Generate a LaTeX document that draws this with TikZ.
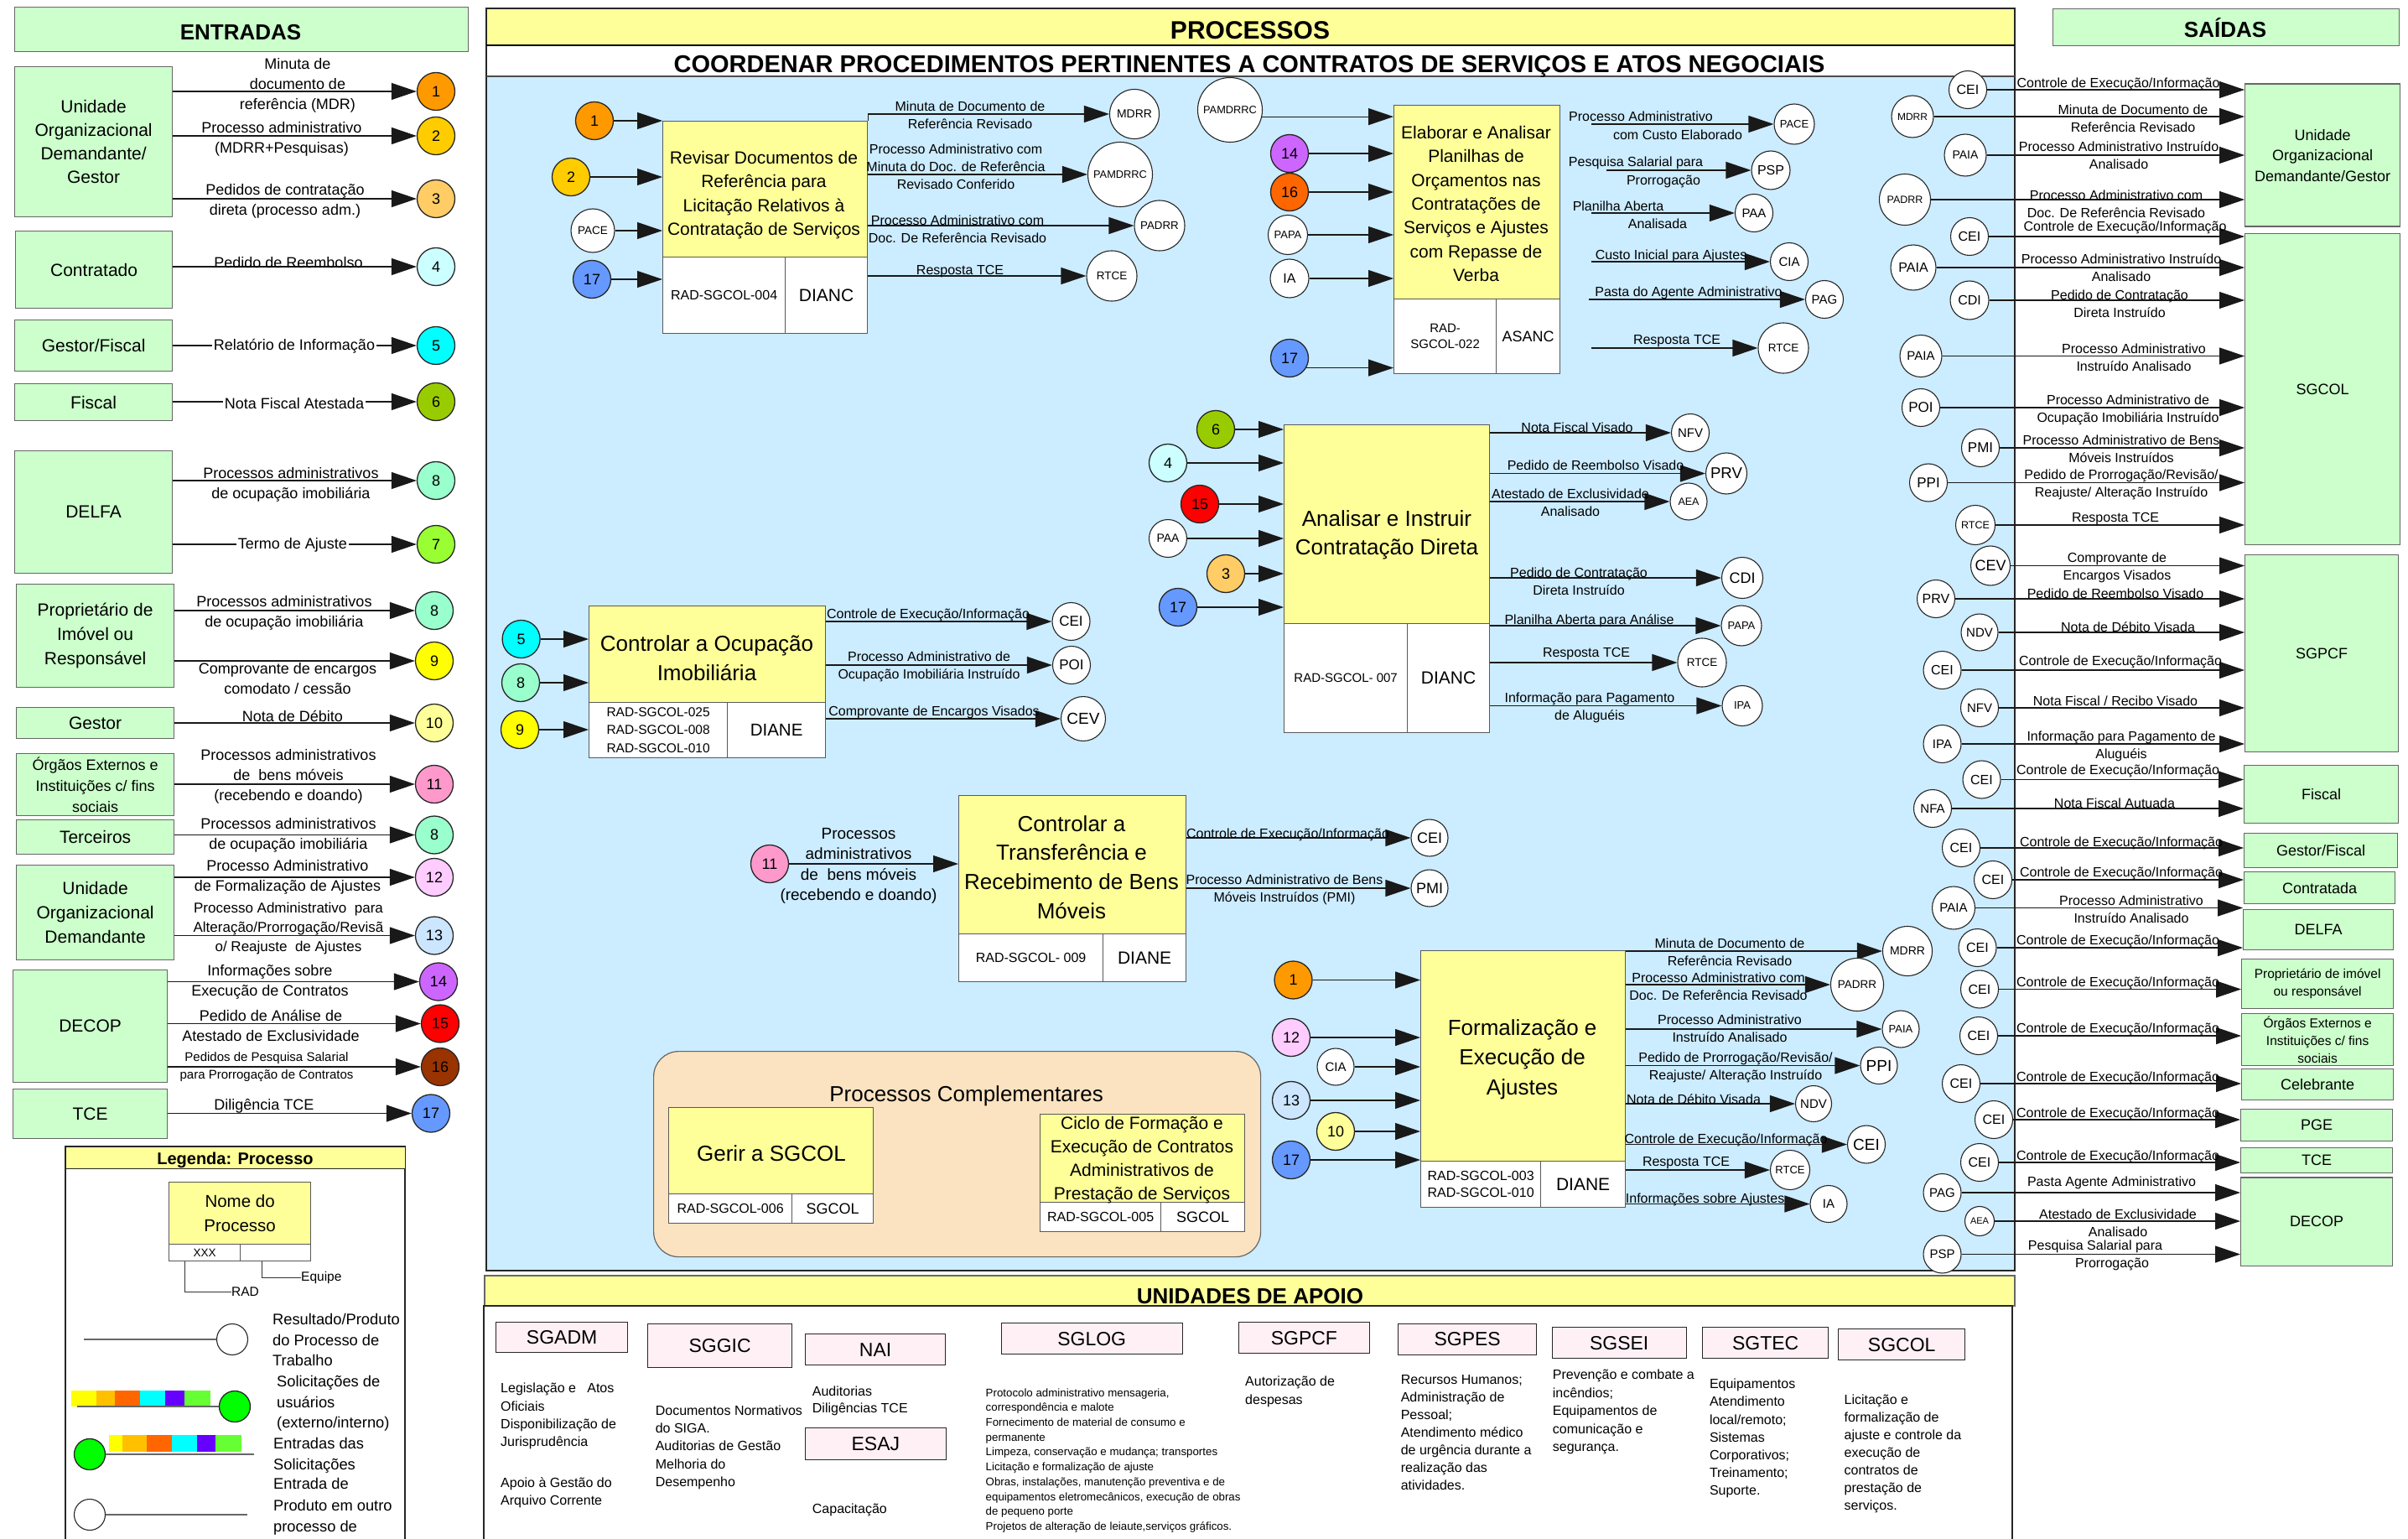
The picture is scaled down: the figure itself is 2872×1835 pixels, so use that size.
\documentclass[tikz,border=0pt]{standalone}
\usepackage{fontspec}
\setmainfont{Liberation Sans}
\usetikzlibrary{arrows.meta}
\newcommand\myfs[2]{\fontsize{#1}{#2}\selectfont}
\definecolor{entgreen}{HTML}{CCFFCC}
\definecolor{procyel}{HTML}{FFFF99}
\definecolor{procblue}{HTML}{CCECFF}
\definecolor{peach}{HTML}{FBE3C1}
\definecolor{apink}{HTML}{FFF0F5}
\definecolor{cA}{HTML}{FF9900}
\definecolor{cB}{HTML}{FFCC00}
\definecolor{cC}{HTML}{FFCC66}
\definecolor{cD}{HTML}{CCFFFF}
\definecolor{cE}{HTML}{00FFFF}
\definecolor{cF}{HTML}{99CC00}
\definecolor{cG}{HTML}{99FF33}
\definecolor{cH}{HTML}{99FFCC}
\definecolor{cI}{HTML}{FFFF00}
\definecolor{cJ}{HTML}{FFFF99}
\definecolor{cK}{HTML}{FF99CC}
\definecolor{cL}{HTML}{FFCCFF}
\definecolor{cM}{HTML}{CCE6FF}
\definecolor{cN}{HTML}{CC66FF}
\definecolor{cO}{HTML}{FF0000}
\definecolor{cP}{HTML}{993300}
\definecolor{cPb}{HTML}{FF6600}
\definecolor{cQ}{HTML}{6699FF}
\definecolor{barB}{HTML}{FFC000}
\definecolor{barC}{HTML}{FF6600}
\definecolor{barE}{HTML}{6600FF}
\definecolor{barF}{HTML}{66FF33}
\definecolor{lgreen}{HTML}{00FF00}
\tikzset{
 gbox/.style={draw=black!60, line width=1.2pt, fill=entgreen, inner sep=0pt, align=center, font=\myfs{18}{24}},
 ybox/.style={draw=black!65, line width=1.2pt, fill=procyel, inner sep=0pt},
 wbox/.style={draw=black!65, line width=1.2pt, fill=white, inner sep=0pt, align=center},
 pkbox/.style={draw=black!85, line width=1.3pt, fill=apink, inner sep=0pt, font=\myfs{23}{23}},
 numc/.style={circle, draw=black!85, line width=1.3pt, minimum size=45pt, inner sep=0pt, font=\myfs{18}{18}},
 wc/.style={circle, draw=black!85, line width=1.1pt, fill=white, inner sep=0pt},
 lab/.style={font=\myfs{16}{21}, align=center, inner sep=0pt},
 elab/.style={font=\myfs{18}{24}, align=center, inner sep=0pt},
 ptit/.style={font=\myfs{21}{28.3}, align=center, inner sep=0pt},
 dtxt/.style={font=\myfs{16}{21.1}, align=left, inner sep=0pt, anchor=west},
 arr/.style={draw=black!90, line width=1.2pt, -{Triangle[length=30pt,width=20pt]}},
 ln/.style={draw=black!80, line width=1.2pt}
}
\newcommand\mybx[7]{\node[#1, anchor=north west, minimum width=#5pt, minimum height=#6pt] (#2) at (#3,#4) {#7};}
\newcommand\mywc[5]{\node[wc, minimum size=#4pt, font=\myfs{#5}{#5}] (#1) at (#2) {#3};}
\newcommand\mync[4]{\node[numc, fill=#4] (#1) at (#2) {#3};}
\newcommand\myin[2]{\draw[arr] (#1) -- (#1 -| #2.west);}
\newcommand\myout[2]{\draw[arr] (#1.east |- #2) -- (#2);}
\newcommand\mylab[3]{\node[lab] (#1) at (#2) {#3};}
\newcommand\myelab[3]{\node[elab] (#1) at (#2) {#3};}
\begin{document}
\begin{tikzpicture}[x=1pt,y=-1pt]
\useasboundingbox (0,0) rectangle (2872,1835);
\fill[white] (0,0) rectangle (2872,1835);

% ===== PROCESSOS frame =====
\fill[procyel] (580,10) rectangle (2403,54);
\fill[white] (580,54) rectangle (2403,91);
\fill[procblue] (580,91) rectangle (2403,1515);
\draw[black!85, line width=1.5pt] (580,10) rectangle (2403,1515);
\draw[black, line width=2.5pt] (580,54) -- (2403,54);
\draw[black!70, line width=1.2pt] (580,91) -- (2403,91);
\node[font=\bfseries\myfs{30}{30}, anchor=base, inner sep=0pt] (ptitle) at (1491,46.5) {PROCESSOS};
\node[font=\bfseries\myfs{29}{29}, anchor=base, inner sep=0pt] (psub) at (1490,87) {COORDENAR PROCEDIMENTOS PERTINENTES A CONTRATOS DE SERVIÇOS E ATOS NEGOCIAIS};

% ===== UNIDADES DE APOIO frame =====
\fill[procyel] (578,1521) rectangle (2403,1557);
\draw[black!60, line width=1.2pt] (578,1521) rectangle (2403,1557);
\draw[black!85, line width=1.5pt] (577,1845) -- (577,1557) -- (2400,1557) -- (2400,1845);
\node[font=\bfseries\myfs{26}{26}, anchor=base, inner sep=0pt] (utitle) at (1491,1554) {UNIDADES DE APOIO};

% ===== ENTRADAS =====
\mybx{gbox}{enth}{17}{8}{541}{53}{}
\node[font=\bfseries\myfs{26}{26}, anchor=base, inner sep=0pt] (entt) at (287,47.3) {ENTRADAS};
\mybx{gbox,font=\myfs{21}{28}}{e1}{17}{79}{188}{179}{Unidade\\Organizacional\\Demandante/\\Gestor}
\mybx{gbox,font=\myfs{21}{28}}{e2}{18}{275}{187}{92}{Contratado}
\mybx{gbox,font=\myfs{21}{28}}{e3}{17}{381}{188}{61}{Gestor/Fiscal}
\mybx{gbox,font=\myfs{21}{28}}{e4}{17}{457}{188}{44}{Fiscal}
\mybx{gbox,font=\myfs{21}{28}}{e5}{17}{537}{188}{146}{DELFA}
\mybx{gbox,font=\myfs{21}{28.7}}{e6}{19}{696}{188}{123}{Proprietário de\\Imóvel ou\\Responsável}
\mybx{gbox,font=\myfs{21}{28}}{e7}{19}{843}{188}{37}{Gestor}
\mybx{gbox,font=\myfs{18}{25}}{e8}{19}{898}{188}{74}{Órgãos Externos e\\Instituições c/ fins\\sociais}
\mybx{gbox,font=\myfs{21}{28}}{e9}{19}{977}{188}{41}{Terceiros}
\mybx{gbox,font=\myfs{21}{28.7}}{e10}{19}{1031}{188}{113}{Unidade\\Organizacional\\Demandante}
\mybx{gbox,font=\myfs{21}{28}}{e11}{15}{1156}{184}{134}{DECOP}
\mybx{gbox,font=\myfs{21}{28}}{e12}{15}{1298}{184}{59}{TCE}

\mync{i1}{520,109}{1}{cA}   \myout{e1}{i1}
\myelab{li1}{355,102}{Minuta de\\documento de\\referência (MDR)}
\mync{i2}{520,162}{2}{cB}   \myout{e1}{i2}
\myelab{li2}{336,166}{Processo administrativo\\(MDRR+Pesquisas)}
\mync{i3}{520,237}{3}{cC}   \myout{e1}{i3}
\myelab{li3}{340,239.5}{Pedidos de contratação\\direta (processo adm.)}
\mync{i4}{520,318}{4}{cD}   \myout{e2}{i4}
\myelab{li4}{344,313}{Pedido de Reembolso}
\mync{i5}{520,412}{5}{cE}   \myout{e3}{i5}
\node[elab, fill=white, inner sep=2pt] (li5) at (351,413) {Relatório de Informação};
\mync{i6}{520,479}{6}{cF}   \myout{e4}{i6}
\node[elab, fill=white, inner sep=2pt] (li6) at (351,481) {Nota Fiscal Atestada};
\mync{i8a}{520,573}{8}{cH}  \myout{e5}{i8a}
\myelab{li8a}{347,577.5}{Processos administrativos\\de ocupação imobiliária}
\mync{i7}{520,649}{7}{cG}   \myout{e5}{i7}
\node[elab, fill=white, inner sep=2pt] (li7) at (349,650) {Termo de Ajuste};
\mync{i8b}{518,728}{8}{cH}  \myout{e6}{i8b}
\myelab{li8b}{339,730.5}{Processos administrativos\\de ocupação imobiliária}
\mync{i9}{518,788}{9}{cI}   \myout{e6}{i9}
\myelab{li9}{343,809.5}{Comprovante de encargos\\comodato / cessão}
\mync{i10}{518,862}{10}{cJ} \myout{e7}{i10}
\myelab{li10}{349,854}{Nota de Débito}
\mync{i11}{518,935}{11}{cK} \myout{e8}{i11}
\myelab{li11}{344,926}{Processos administrativos\\de\ \ bens móveis\\(recebendo e doando)}
\mync{i8c}{518,995.5}{8}{cH} \myout{e9}{i8c}
\myelab{li8c}{344,995.5}{Processos administrativos\\de ocupação imobiliária}
\mync{i12}{518,1046}{12}{cL} \myout{e10}{i12}
\myelab{li12}{343,1046}{Processo Administrativo\\de Formalização de Ajustes}
\mync{i13}{518,1115.5}{13}{cM} \myout{e10}{i13}
\node[elab, font=\myfs{17}{23}] (li13) at (344,1107) {Processo Administrativo\ \ para\\Alteração/Prorrogação/Revisã\\o/ Reajuste\ \ de Ajustes};
\mync{i14}{523,1170.5}{14}{cN} \myout{e11}{i14}
\myelab{li14}{322,1171}{Informações sobre\\Execução de Contratos}
\mync{i15}{525,1220.5}{15}{cO} \myout{e11}{i15}
\myelab{li15}{323,1222.5}{Pedido de Análise de\\Atestado de Exclusividade}
\mync{i16}{525,1272}{16}{cP} \myout{e11}{i16}
\node[elab, font=\myfs{15}{21}] (li16) at (318,1272.5) {Pedidos de Pesquisa Salarial\\para Prorrogação de Contratos};
\mync{i17}{514,1327.5}{17}{cQ} \myout{e12}{i17}
\myelab{li17}{315,1319}{Diligência TCE}

% ===== LEGENDA =====
\draw[black!85, line width=1.2pt, fill=white] (78,1845) -- (78,1367) -- (483,1367) -- (483,1845);
\mybx{draw=black!85, line width=1.2pt, fill=procyel, inner sep=0pt}{legh}{78}{1367}{405}{26}{}
\node[font=\bfseries\myfs{20}{20}, anchor=base, inner sep=0pt] (legt) at (280.5,1388) {Legenda: Processo};
\mybx{ybox, align=center, font=\myfs{20.5}{29}}{lgp}{201}{1409}{169}{74}{Nome do\\Processo}
\mybx{wbox, font=\myfs{13.5}{14}}{lgr}{201}{1483}{85}{20}{XXX}
\mybx{wbox}{lge}{286}{1483}{84}{20}{}
\node[anchor=west, font=\myfs{15.5}{16}, inner sep=0pt] (lgradt) at (276,1540) {RAD};
\draw[ln, line width=1pt] ([xshift=19pt]lgr.south west) |- (lgradt.west);
\node[anchor=west, font=\myfs{15.5}{16}, inner sep=0pt] (lgeqt) at (359,1523) {Equipe};
\draw[ln, line width=1pt] ([xshift=26pt]lge.south west) |- (lgeqt.west);
\node[wc, minimum size=37pt] (lgc1) at (277,1597) {};
\coordinate (lg1s) at (100,1597);
\draw[ln, black!60] (lg1s) -- (lgc1);
\fill[cI] (85,1658) rectangle (115,1677);
\fill[barB] (115,1658) rectangle (137,1677);
\fill[barC] (137,1658) rectangle (167,1677);
\fill[cE] (167,1658) rectangle (197,1677);
\fill[barE] (197,1658) rectangle (220,1677);
\fill[barF] (220,1658) rectangle (251,1677);
\node[numc, minimum size=37pt, fill=lgreen] (lgc2) at (280,1677) {};
\coordinate (lg2s) at (92,1677);
\draw[ln, black!60] (lg2s) -- (lgc2);
\fill[cI] (130,1711) rectangle (146,1731);
\fill[barB] (146,1711) rectangle (175,1731);
\fill[barC] (175,1711) rectangle (205,1731);
\fill[cE] (205,1711) rectangle (235,1731);
\fill[barE] (235,1711) rectangle (257,1731);
\fill[barF] (257,1711) rectangle (288,1731);
\node[numc, minimum size=37pt, fill=lgreen] (lgc3) at (107,1734) {};
\coordinate (lg3e) at (303,1734);
\draw[ln, black!60] (lgc3) -- (lg3e);
\node[wc, minimum size=37pt] (lgc4) at (107,1806) {};
\coordinate (lg4e) at (295,1806);
\draw[ln, black!60] (lgc4) -- (lg4e);
\node[dtxt, font=\myfs{18.3}{24.5}] (lgt1) at (325,1597.5) {Resultado/Produto\\do Processo de\\Trabalho};
\node[dtxt, font=\myfs{18.3}{24.5}] (lgt2) at (330,1673.5) {Solicitações de\\usuários\\(externo/interno)};
\node[dtxt, font=\myfs{18.3}{24.5}] (lgt3) at (326,1735.5) {Entradas das\\Solicitações};
\node[dtxt, font=\myfs{18.3}{25.5}] (lgt4) at (326,1796.5) {Entrada de\\Produto em outro\\processo de};

% ===== B1 Revisar =====
\mybx{ybox}{b1}{790}{144}{244}{162}{}
\mybx{wbox,font=\myfs{16}{20}}{b1l}{790}{306}{146}{91}{RAD-SGCOL-004}
\mybx{wbox,font=\myfs{21}{24}}{b1r}{936}{306}{98}{91}{DIANC}
\node[ptit] (t1) at (911,232.5) {Revisar Documentos de\\Referência para\\Licitação Relativos à\\Contratação de Serviços};
\mync{b1i1}{709,144}{1}{cA}    \myin{b1i1}{b1}
\mync{b1i2}{681,211}{2}{cB}    \myin{b1i2}{b1}
\mywc{b1i3}{707,275}{PACE}{52}{13.5} \myin{b1i3}{b1}
\mync{b1i4}{706,333}{17}{cQ}   \myin{b1i4}{b1}
\mywc{b1o1}{1353,136}{MDRR}{59}{14}
\draw[arr] (b1.north east) |- (b1o1);
\mylab{b1t1}{1157,137.5}{Minuta de Documento de\\Referência Revisado}
\mywc{b1o2}{1336,208}{PAMDRRC}{77}{12.8} \myout{b1}{b1o2}
\mylab{b1t2}{1140,199}{Processo Administrativo com\\Minuta do Doc. de Referência\\Revisado Conferido}
\mywc{b1o3}{1383,269}{PADRR}{60}{13.3} \myout{b1}{b1o3}
\mylab{b1t3}{1142,273}{Processo Administrativo com\\Doc. De Referência Revisado}
\mywc{b1o4}{1326,329}{RTCE}{60}{13.5} \myout{b1}{b1o4}
\mylab{b1t4}{1145,324}{Resposta TCE}

% ===== B2 Elaborar =====
\mybx{ybox}{b2}{1662}{125}{198}{231}{}
\mybx{wbox,font=\myfs{15}{19}}{b2l}{1662}{356}{122}{89}{RAD-\\SGCOL-022}
\mybx{wbox,font=\myfs{18}{20}}{b2r}{1784}{356}{76}{89}{ASANC}
\node[ptit] (t2) at (1760.5,243) {Elaborar e Analisar\\Planilhas de\\Orçamentos nas\\Contratações de\\Serviços e Ajustes\\com Repasse de\\Verba};
\mywc{b2i1}{1467,131}{PAMDRRC}{77}{12.8}
\draw[arr] (b2i1.-12) -- (b2i1.-12 -| b2.west);
\mync{b2i2}{1538,183}{14}{cN}   \myin{b2i2}{b2}
\mync{b2i3}{1538,229}{16}{cPb}  \myin{b2i3}{b2}
\mywc{b2i4}{1536,280}{PAPA}{47}{13} \myin{b2i4}{b2}
\mywc{b2i5}{1538,332}{IA}{46}{16}   \myin{b2i5}{b2}
\mync{b2i6}{1538,427}{17}{cQ}
\draw[arr] (b2i6.-30) -- (b2i6.-30 -| b2.west);
\mywc{b2o1}{2140,148}{PACE}{48}{13}
\coordinate (b2s1) at (1898,148); \draw[arr] (b2s1) -- (b2o1);
\mylab{b2t1a}{1957,139}{Processo Administrativo}
\mylab{b2t1b}{2001,161}{com Custo Elaborado}
\mywc{b2o2}{2112,203}{PSP}{46}{16}
\coordinate (b2s2) at (1916,203); \draw[arr] (b2s2) -- (b2o2);
\mylab{b2t2a}{1951,194}{Pesquisa Salarial para}
\mylab{b2t2b}{1984,216}{Prorrogação}
\mywc{b2o3}{2092,254}{PAA}{45}{15}
\coordinate (b2s3) at (1898,254); \draw[arr] (b2s3) -- (b2o3);
\mylab{b2t3a}{1930,246}{Planilha Aberta}
\mylab{b2t3b}{1977,267}{Analisada}
\mywc{b2o4}{2134,312}{CIA}{45}{15}
\coordinate (b2s4) at (1898,312); \draw[arr] (b2s4) -- (b2o4);
\mylab{b2t4}{1993,305}{Custo Inicial para Ajustes}
\mywc{b2o5}{2176,357}{PAG}{45}{15}
\coordinate (b2s5) at (1895,357); \draw[arr] (b2s5) -- (b2o5);
\mylab{b2t5}{2014,349}{Pasta do Agente Administrativo}
\mywc{b2o6}{2127,415}{RTCE}{60}{13.5}
\coordinate (b2s6) at (1898,415); \draw[arr] (b2s6) -- (b2o6);
\mylab{b2t6}{2000,407}{Resposta TCE}

% ===== B3 Analisar =====
\mybx{ybox}{b3}{1531}{506}{245}{237}{}
\mybx{wbox,font=\myfs{15}{18}}{b3l}{1531}{743}{147}{130}{RAD-SGCOL- 007}
\mybx{wbox,font=\myfs{21}{24}}{b3r}{1678}{743}{98}{130}{DIANC}
\node[ptit, font=\myfs{26}{34}] (t3) at (1654,638) {Analisar e Instruir\\Contratação Direta};
\mync{b3i1}{1450,512}{6}{cF}   \myin{b3i1}{b3}
\mync{b3i2}{1393,552}{4}{cD}   \myin{b3i2}{b3}
\mync{b3i3}{1431,601}{15}{cO}  \myin{b3i3}{b3}
\mywc{b3i4}{1393,642}{PAA}{45}{14} \myin{b3i4}{b3}
\mync{b3i5}{1462,684}{3}{cC}   \myin{b3i5}{b3}
\mync{b3i6}{1405,724}{17}{cQ}  \myin{b3i6}{b3}
\mywc{b3o1}{2016,516}{NFV}{45}{15} \myout{b3}{b3o1}
\mylab{b3t1}{1881,510}{Nota Fiscal Visado}
\mywc{b3o2}{2059,564.5}{PRV}{49}{18.6} \myout{b3}{b3o2}
\mylab{b3t2}{1903,555}{Pedido de Reembolso Visado}
\mywc{b3o3}{2014,598}{AEA}{44}{12.5} \myout{b3}{b3o3}
\mylab{b3t3}{1873,599.5}{Atestado de Exclusividade\\Analisado}
\mywc{b3o4}{2078,689}{CDI}{49}{18} \myout{b3}{b3o4}
\mylab{b3t4}{1883,693}{Pedido de Contratação\\Direta Instruído}
\mywc{b3o5}{2077,746}{PAPA}{48}{13} \myout{b3}{b3o5}
\mylab{b3t5}{1895.5,740}{Planilha Aberta para Análise}
\mywc{b3o6}{2030,790}{RTCE}{58}{13.5} \myout{b3}{b3o6}
\mylab{b3t6}{1892,779.6}{Resposta TCE}
\mywc{b3o7}{2078,841.5}{IPA}{48}{13} \myout{b3}{b3o7}
\mylab{b3t7}{1896,843.5}{Informação para Pagamento\\de Aluguéis}

% ===== B4 Controlar Ocupacao =====
\mybx{ybox}{b4}{702}{722}{282}{115}{}
\mybx{wbox,font=\myfs{15.5}{21.5}}{b4l}{702}{837}{165}{66}{RAD-SGCOL-025\\RAD-SGCOL-008\\RAD-SGCOL-010}
\mybx{wbox,font=\myfs{20.5}{22}}{b4r}{867}{837}{117}{66}{DIANE}
\node[ptit, font=\myfs{26}{35}] (t4) at (843,785) {Controlar a Ocupação\\Imobiliária};
\mync{b4i1}{621.6,762}{5}{cE}  \myin{b4i1}{b4}
\mync{b4i2}{621,814}{8}{cH}    \myin{b4i2}{b4}
\mync{b4i3}{620,870}{9}{cI}    \myin{b4i3}{b4}
\mywc{b4o1}{1277.5,741}{CEI}{45}{17} \myout{b4}{b4o1}
\mylab{b4t1}{1107,733}{Controle de Execução/Informação}
\mywc{b4o2}{1278,793}{POI}{45}{17} \myout{b4}{b4o2}
\mylab{b4t2}{1108,794.5}{Processo Administrativo de\\Ocupação Imobiliária Instruído}
\mywc{b4o3}{1292,857}{CEV}{53}{19} \myout{b4}{b4o3}
\mylab{b4t3}{1114,849}{Comprovante de Encargos Visados}

% ===== B5 Transferencia =====
\mybx{ybox}{b5}{1143}{948}{271}{165}{}
\mybx{wbox,font=\myfs{16}{18}}{b5l}{1143}{1113}{172}{57}{RAD-SGCOL- 009}
\mybx{wbox,font=\myfs{21}{24}}{b5r}{1315}{1113}{99}{57}{DIANE}
\node[ptit, font=\myfs{26}{34.8}] (t5) at (1278,1034) {Controlar a\\Transferência e\\Recebimento de Bens\\Móveis};
\mync{b5i1}{918,1030}{11}{cK}  \myin{b5i1}{b5}
\node[elab, font=\myfs{19}{24.5}] (b5it) at (1024,1032.5) {Processos\\administrativos\\de\ \ bens móveis\\(recebendo e doando)};
\mywc{b5o1}{1705,999}{CEI}{44}{18} \myout{b5}{b5o1}
\mylab{b5t1}{1536,995.7}{Controle de Execução/Informação}
\mywc{b5o2}{1705,1059}{PMI}{44}{18} \myout{b5}{b5o2}
\mylab{b5t2}{1532,1061}{Processo Administrativo de Bens\\Móveis Instruídos (PMI)}

% ===== B6 Formalizacao =====
\mybx{ybox}{b6}{1694}{1133}{244}{251}{}
\mybx{wbox,font=\myfs{16}{20}}{b6l}{1694}{1384}{143}{55}{RAD-SGCOL-003\\RAD-SGCOL-010}
\mybx{wbox,font=\myfs{21}{24}}{b6r}{1837}{1384}{101}{55}{DIANE}
\node[ptit, font=\myfs{26}{35.3}] (t6) at (1815.6,1263) {Formalização e\\Execução de\\Ajustes};
\mync{b6i1}{1542.5,1168.5}{1}{cA}  \myin{b6i1}{b6}
\mync{b6i2}{1540,1237}{12}{cL}     \myin{b6i2}{b6}
\mywc{b6i3}{1593,1272}{CIA}{44}{15} \myin{b6i3}{b6}
\mync{b6i4}{1540,1312}{13}{cM}     \myin{b6i4}{b6}
\mync{b6i5}{1593,1349}{10}{cJ}     \myin{b6i5}{b6}
\mync{b6i6}{1540,1383}{17}{cQ}     \myin{b6i6}{b6}
\mywc{b6o1}{2275,1134}{MDRR}{59}{14} \myout{b6}{b6o1}
\mylab{b6t1}{2063,1135.5}{Minuta de Documento de\\Referência Revisado}
\mywc{b6o2}{2215,1174}{PADRR}{63}{13.5} \myout{b6}{b6o2}
\mylab{b6t2}{2049.5,1176}{Processo Administrativo com\\Doc. De Referência Revisado}
\mywc{b6o3}{2267,1227}{PAIA}{44}{13} \myout{b6}{b6o3}
\mylab{b6t3}{2063,1226}{Processo Administrativo\\Instruído Analisado}
\mywc{b6o4}{2241,1270.5}{PPI}{44}{19} \myout{b6}{b6o4}
\mylab{b6t4}{2070,1273}{Pedido de Prorrogação/Revisão/\\Reajuste/ Alteração Instruído}
\mywc{b6o5}{2163,1316}{NDV}{43}{15} \myout{b6}{b6o5}
\mylab{b6t5}{2020,1311}{Nota de Débito Visada}
\mywc{b6o6}{2226,1364.5}{CEI}{45}{19} \myout{b6}{b6o6}
\mylab{b6t6}{2058.5,1359}{Controle de Execução/Informação}
\mywc{b6o7}{2135,1395}{RTCE}{47}{13} \myout{b6}{b6o7}
\mylab{b6t7}{2011,1387}{Resposta TCE}
\mywc{b6o8}{2181,1435.5}{IA}{44}{15} \myout{b6}{b6o8}
\mylab{b6t8}{2033.6,1430}{Informações sobre Ajustes}

% ===== Processos complementares =====
\mybx{draw=black!60, line width=1.2pt, fill=peach, rounded corners=30pt}{pc}{779}{1253}{724}{245}{}
\node[font=\myfs{26}{26}, inner sep=0pt] (pct) at (1152.6,1307) {Processos Complementares};
\mybx{ybox}{gy}{797}{1320}{244}{103}{}
\node[ptit, font=\myfs{26}{26}] (tg) at (920,1375) {Gerir a SGCOL};
\mybx{wbox,font=\myfs{16}{18}}{gl}{797}{1423}{147}{35}{RAD-SGCOL-006}
\mybx{wbox,font=\myfs{18}{20}}{gr}{944}{1423}{97}{35}{SGCOL}
\mybx{ybox}{cy}{1240}{1328}{244}{105}{}
\mybx{wbox,font=\myfs{16}{18}}{cl}{1240}{1433}{144}{35}{RAD-SGCOL-005}
\mybx{wbox,font=\myfs{18}{20}}{cr}{1384}{1433}{100}{35}{SGCOL}
\node[ptit, font=\myfs{21}{28.1}] (tc) at (1362,1383) {Ciclo de Formação e\\Execução de Contratos\\Administrativos de\\Prestação de Serviços};

% ===== SAIDAS =====
\mybx{gbox}{saih}{2448}{10}{413}{44}{}
\node[font=\bfseries\myfs{26}{26}, anchor=base, inner sep=0pt] (sait) at (2654,45) {SAÍDAS};
\mybx{gbox,font=\myfs{18}{24.5}}{sd1}{2677}{99.5}{185}{170}{Unidade\\Organizacional\\Demandante/Gestor}
\mybx{gbox}{sd2}{2677}{278}{185}{371}{SGCOL}
\mybx{gbox}{sd3}{2677}{661}{183}{234.5}{SGPCF}
\mybx{gbox}{sd4}{2676}{912}{184}{69}{Fiscal}
\mybx{gbox}{sd5}{2676}{993}{183}{41}{Gestor/Fiscal}
\mybx{gbox}{sd6}{2676}{1039}{180}{38}{Contratada}
\mybx{gbox}{sd7}{2675}{1083.5}{179}{48.5}{DELFA}
\mybx{gbox,font=\myfs{15.5}{21}}{sd8}{2673}{1143}{181}{59}{Proprietário de imóvel\\ou responsável}
\mybx{gbox,font=\myfs{15.5}{21}}{sd9}{2673}{1208}{181}{62}{Órgãos Externos e\\Instituições c/ fins\\sociais}
\mybx{gbox}{sd10}{2673}{1273.5}{181}{37.5}{Celebrante}
\mybx{gbox}{sd11}{2672}{1322}{181}{37.6}{PGE}
\mybx{gbox}{sd12}{2672}{1368}{181}{30}{TCE}
\mybx{gbox}{sd13}{2672}{1403.4}{181}{105.5}{DECOP}

\mywc{s1}{2347,107}{CEI}{45}{16}     \myin{s1}{sd1}
\mylab{st1}{2526.5,100.5}{Controle de Execução/Informação}
\mywc{s2}{2281,139}{MDRR}{50}{12}    \myin{s2}{sd1}
\mylab{st2}{2544,141}{Minuta de Documento de\\Referência Revisado}
\mywc{s3}{2344,185}{PAIA}{50}{14}    \myin{s3}{sd1}
\mylab{st3}{2527,185}{Processo Administrativo Instruído\\Analisado}
\mywc{s4}{2272,238}{PADRR}{61}{12.5} \myin{s4}{sd1}
\mylab{st4}{2524,243}{Processo Administrativo com\\Doc. De Referência Revisado}
\mywc{s5}{2349,282}{CEI}{45}{16}     \myin{s5}{sd2}
\mylab{st5}{2534.5,271.4}{Controle de Execução/Informação}
\mywc{s6}{2282,319}{PAIA}{54}{16}    \myin{s6}{sd2}
\mylab{st6}{2530,319}{Processo Administrativo Instruído\\Analisado}
\mywc{s7}{2349,358}{CDI}{46}{16}     \myin{s7}{sd2}
\mylab{st7}{2528,362}{Pedido de Contratação\\Direta Instruído}
\mywc{s8}{2291,424.5}{PAIA}{50}{15}  \myin{s8}{sd2}
\mylab{st8}{2545,426}{Processo Administrativo\\Instruído Analisado}
\mywc{s9}{2291,486}{POI}{45}{17}     \myin{s9}{sd2}
\mylab{st9}{2538,488.5}{Processo Administrativo de\\Ocupação Imobiliária Instruído}
\mywc{s10}{2362,534}{PMI}{45}{17}    \myin{s10}{sd2}
\mylab{st10}{2530,535}{Processo Administrativo de Bens\\Móveis Instruídos}
\mywc{s11}{2300,575.5}{PPI}{45}{17}  \myin{s11}{sd2}
\mylab{st11}{2530,578}{Pedido de Prorrogação/Revisão/\\Reajuste/ Alteração Instruído}
\mywc{s12}{2356,626}{RTCE}{47}{12.5} \myin{s12}{sd2}
\mylab{st12}{2523,619}{Resposta TCE}
\mywc{s13}{2374,674.5}{CEV}{47}{18}  \myin{s13}{sd3}
\mylab{st13}{2525,676.5}{Comprovante de\\Encargos Visados}
\mywc{s14}{2309,714}{PRV}{45}{16}    \myin{s14}{sd3}
\mylab{st14}{2523,708}{Pedido de Reembolso Visado}
\mywc{s15}{2361,754}{NDV}{44}{15}    \myin{s15}{sd3}
\mylab{st15}{2538,747.4}{Nota de Débito Visada}
\mywc{s16}{2316.5,799}{CEI}{45}{16}  \myin{s16}{sd3}
\mylab{st16}{2529,789}{Controle de Execução/Informação}
\mywc{s17}{2361,844}{NFV}{45}{15}    \myin{s17}{sd3}
\mylab{st17}{2523,835.7}{Nota Fiscal / Recibo Visado}
\mywc{s18}{2316.5,887}{IPA}{45}{15}  \myin{s18}{sd3}
\mylab{st18}{2530,890}{Informação para Pagamento de\\Aluguéis}
\mywc{s19}{2363.5,929.5}{CEI}{45}{16} \myin{s19}{sd4}
\mylab{st19}{2526,919.3}{Controle de Execução/Informação}
\mywc{s20}{2305,964}{NFA}{45}{15}    \myin{s20}{sd4}
\mylab{st20}{2522,957.6}{Nota Fiscal Autuada}
\mywc{s21}{2339,1011}{CEI}{45}{16}   \myin{s21}{sd5}
\mylab{st21}{2530,1005.4}{Controle de Execução/Informação}
\mywc{s22}{2377,1049}{CEI}{45}{16}   \myin{s22}{sd6}
\mylab{st22}{2530,1041}{Controle de Execução/Informação}
\mywc{s23}{2330,1082.5}{PAIA}{51}{15} \myin{s23}{sd7}
\mylab{st23}{2542,1084}{Processo Administrativo\\Instruído Analisado}
\mywc{s24}{2358.5,1130}{CEI}{45}{16} \myin{s24}{sd7}
\mylab{st24}{2526,1122.3}{Controle de Execução/Informação}
\mywc{s25}{2361,1179.5}{CEI}{45}{16} \myin{s25}{sd8}
\mylab{st25}{2526,1172.5}{Controle de Execução/Informação}
\mywc{s26}{2360,1235}{CEI}{45}{16}   \myin{s26}{sd9}
\mylab{st26}{2526,1227.8}{Controle de Execução/Informação}
\mywc{s27}{2339,1292}{CEI}{45}{16}   \myin{s27}{sd10}
\mylab{st27}{2526,1285.5}{Controle de Execução/Informação}
\mywc{s28}{2378,1335}{CEI}{45}{16}   \myin{s28}{sd11}
\mylab{st28}{2526,1328.8}{Controle de Execução/Informação}
\mywc{s29}{2361,1386}{CEI}{45}{16}   \myin{s29}{sd12}
\mylab{st29}{2526,1379.5}{Controle de Execução/Informação}
\mywc{s30}{2316.5,1422}{PAG}{45}{15} \myin{s30}{sd13}
\mylab{st30}{2518.5,1410.8}{Pasta Agente Administrativo}
\mywc{s31}{2361,1456}{AEA}{35}{11}   \myin{s31}{sd13}
\mylab{st31}{2526,1458.5}{Atestado de Exclusividade\\Analisado}
\mywc{s32}{2316.5,1495.5}{PSP}{45}{15} \myin{s32}{sd13}
\mylab{st32a}{2499,1486.5}{Pesquisa Salarial para}
\mylab{st32b}{2519,1507.4}{Prorrogação}

% ===== UNIDADES DE APOIO content =====
\mybx{pkbox}{u1}{591}{1576}{157}{36}{SGADM}
\mybx{pkbox}{u2}{772}{1578}{172}{52}{SGGIC}
\mybx{pkbox}{u3}{960}{1590}{167}{37}{NAI}
\mybx{pkbox}{u4}{960}{1702}{167.5}{37.5}{ESAJ}
\mybx{pkbox}{u5}{1193.5}{1577}{216}{37}{SGLOG}
\mybx{pkbox}{u6}{1476.5}{1576}{156.5}{37}{SGPCF}
\mybx{pkbox}{u7}{1667}{1578}{165}{36.5}{SGPES}
\mybx{pkbox}{u8}{1850.5}{1582}{160}{37}{SGSEI}
\mybx{pkbox}{u9}{2030}{1582}{150}{37}{SGTEC}
\mybx{pkbox}{u10}{2192}{1584}{151}{37}{SGCOL}
\node[dtxt] (ud1a) at (597,1688.4) {Legislação e\ \ \ Atos\\Oficiais\\Disponibilização de\\Jurisprudência};
\node[dtxt] (ud1b) at (597,1780) {Apoio à Gestão do\\Arquivo Corrente};
\node[dtxt, font=\myfs{16}{21.25}] (ud2) at (781.6,1725.8) {Documentos Normativos\\do SIGA.\\Auditorias de Gestão\\Melhoria do\\Desempenho};
\node[dtxt, font=\myfs{16}{19.5}] (ud3) at (968.7,1670.5) {Auditorias\\Diligências TCE};
\node[dtxt] (ud4) at (968.7,1800) {Capacitação};
\node[dtxt, font=\myfs{13.3}{17.7}] (ud5) at (1175.5,1741.4) {Protocolo administrativo mensageria,\\correspondência e malote\\Fornecimento de material de consumo e\\permanente\\Limpeza, conservação e mudança; transportes\\Licitação e formalização de ajuste\\Obras, instalações, manutenção preventiva e de\\equipamentos eletromecânicos, execução de obras\\de pequeno porte\\Projetos de alteração de leiaute,serviços gráficos.};
\node[dtxt, font=\myfs{16}{21.7}] (ud6) at (1485,1659) {Autorização de\\despesas};
\node[dtxt, font=\myfs{16}{20.95}] (ud7) at (1670.6,1707.9) {Recursos Humanos;\\Administração de\\Pessoal;\\Atendimento médico\\de urgência durante a\\realização das\\atividades.};
\node[dtxt, font=\myfs{16}{21.5}] (ud8) at (1851.7,1683.7) {Prevenção e combate a\\incêndios;\\Equipamentos de\\comunicação e\\segurança.};
\node[dtxt] (ud9) at (2038.8,1715) {Equipamentos\\Atendimento\\local/remoto;\\Sistemas\\Corporativos;\\Treinamento;\\Suporte.};
\node[dtxt] (ud10) at (2199.4,1733.4) {Licitação e\\formalização de\\ajuste e controle da\\execução de\\contratos de\\prestação de\\serviços.};
\end{tikzpicture}
\end{document}
